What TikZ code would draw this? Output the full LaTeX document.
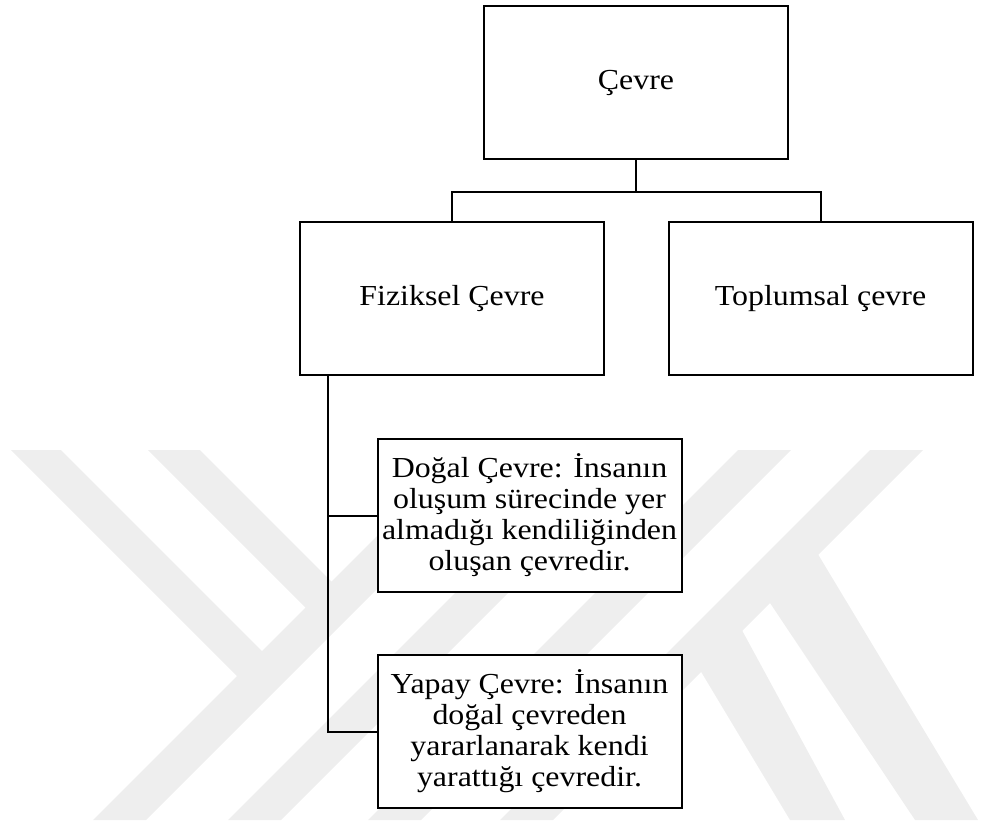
\documentclass[tikz,border=0pt]{standalone}
\usepackage{fontspec}
\setmainfont[FakeStretch=1.1]{Liberation Serif}
\definecolor{silik}{RGB}{238,238,238}
\tikzset{
  kutu/.style={draw, line width=1pt, fill=white, align=center, inner sep=0pt,
    minimum width=152pt, minimum height=76.5pt,
    font=\fontsize{14.5pt}{15.5pt}\selectfont},
  hat/.style={line width=1pt}
}

\begin{document}
\begin{tikzpicture}[x=0.5pt, y=-0.5pt]
  \useasboundingbox (0,0) rectangle (983,824);
  % filigran
  \begin{scope}
    \clip (0,450) rectangle (983,820);
    \foreach \a in {913,1048,1188,1320}{
      \fill[silik] (\a-450,450) -- (\a+53-450,450) -- (\a+53-820,820) -- (\a-820,820) -- cycle;
    }
    \fill[silik] (11,450) -- (61,450) -- (275.5,664.5) -- (250.5,689.5) -- cycle;
    \fill[silik] (148,450) -- (200,450) -- (345,595) -- (319,621) -- cycle;
    \fill[silik] (688,650) -- (731,610) -- (845,820) -- (790,820) -- cycle;
    \fill[silik] (758,585) -- (807,536) -- (978,820) -- (915,820) -- cycle;
  \end{scope}

  \node[kutu] (cevre) at (636,82.5) {Çevre};
  \node[kutu] (fiziksel) at (452,298.5) {Fiziksel Çevre};
  \node[kutu] (toplumsal) at (820.5,298.5) {Toplumsal çevre};
  \node[kutu] (dogal) at (529.5,515.5) {Doğal Çevre: İnsanın\\ oluşum sürecinde yer\\ almadığı kendiliğinden\\ oluşan çevredir.};
  \node[kutu] (yapay) at (529.5,731.5) {Yapay Çevre: İnsanın\\ doğal çevreden\\ yararlanarak kendi\\ yarattığı çevredir.};

  \draw[hat] (cevre.south) -- ++(0,32) -| (fiziksel.north);
  \draw[hat] (cevre.south) ++(0,32) -| (toplumsal.north);
  \coordinate (kol) at ([xshift=14.5pt]fiziksel.south west);
  \draw[hat] (kol) |- (dogal.west);
  \draw[hat] (kol) |- (yapay.west);
\end{tikzpicture}
\end{document}
